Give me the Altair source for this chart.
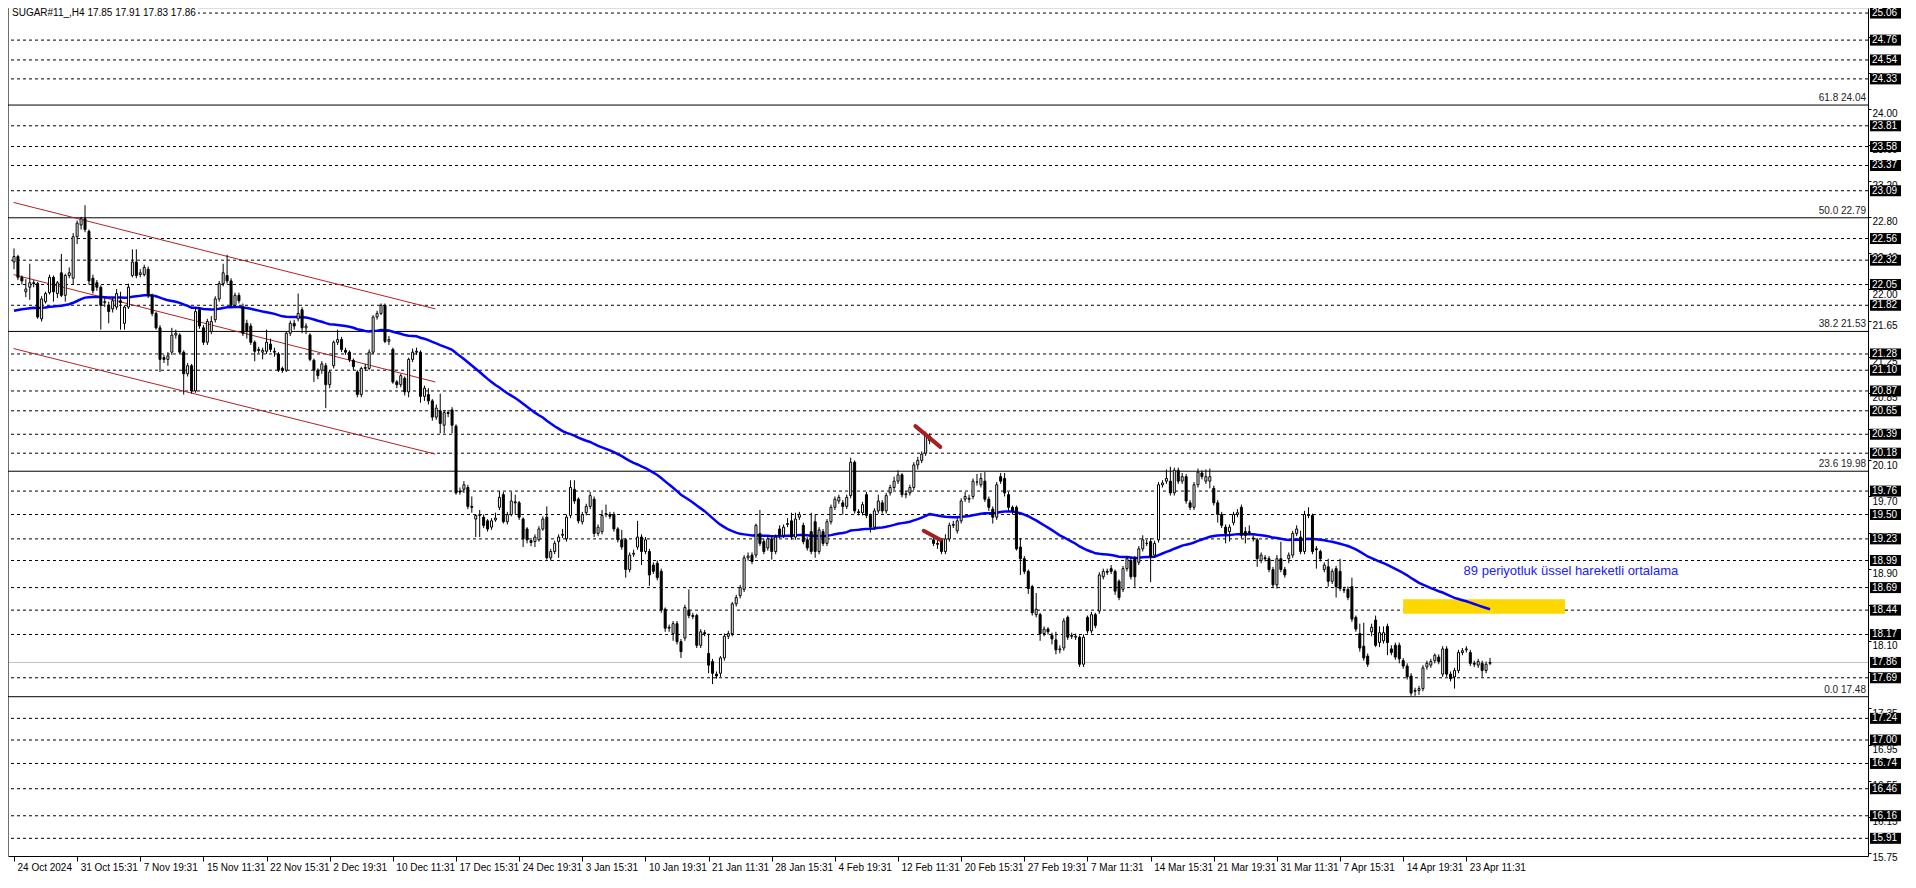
import json
import altair as alt
import pandas as pd

# ---------------- data ----------------
OPEN = [
    22.30, 22.36, 22.13, 21.97, 22.02, 22.07, 22.06, 21.67, 21.86, 21.96,
    22.13, 21.95, 22.18, 21.93, 22.15, 22.12, 22.58, 22.71, 22.78, 22.64,
    22.12, 22.07, 22.02, 21.85, 21.82, 21.78, 21.80, 21.87, 21.62, 21.80,
    22.15, 22.30, 22.16, 22.16, 22.22, 21.93, 21.73, 21.57, 21.24, 21.22,
    21.30, 21.49, 21.49, 21.30, 21.06, 21.15, 20.87, 21.77, 21.57, 21.41,
    21.53, 21.66, 21.89, 22.06, 22.15, 22.09, 21.82, 21.93, 21.80, 21.62,
    21.59, 21.41, 21.33, 21.30, 21.31, 21.39, 21.31, 21.28, 21.12, 21.10,
    21.51, 21.62, 21.67, 21.77, 21.57, 21.49, 21.21, 21.10, 21.10, 21.15,
    20.94, 21.15, 21.41, 21.44, 21.32, 21.30, 21.21, 21.08, 20.83, 21.12,
    21.12, 21.30, 21.69, 21.73, 21.82, 21.42, 21.33, 20.97, 20.94, 21.01,
    20.86, 21.22, 21.30, 21.30, 20.81, 20.83, 20.76, 20.58, 20.65, 20.49,
    20.63, 20.66, 20.48,
    19.76, 19.78, 19.80, 19.59, 19.45, 19.49, 19.47, 19.43, 19.36, 19.44,
    19.58, 19.72, 19.42, 19.50, 19.64, 19.63, 19.45, 19.34, 19.21, 19.20,
    19.22, 19.34, 19.47, 19.02, 19.09, 19.20, 19.27, 19.23, 19.49, 19.78,
    19.67, 19.42, 19.52, 19.59, 19.67, 19.29, 19.31, 19.50, 19.50, 19.50,
    19.34, 19.22, 19.22, 18.89, 19.06, 19.14, 19.25, 19.09, 19.09, 18.94,
    18.96, 18.87, 18.45, 18.25, 18.18, 18.29, 18.09, 18.13, 18.44, 18.38,
    18.38, 18.05, 18.19, 17.96, 17.87, 17.73, 17.74, 17.91, 18.15, 18.18,
    18.51, 18.60, 18.67, 19.02, 19.05, 19.05, 19.29, 19.20, 19.13, 19.23,
    19.09, 19.34, 19.27, 19.39, 19.43, 19.25, 19.47, 19.38, 19.22, 19.31,
    19.42, 19.09, 19.31, 19.18, 19.42, 19.58, 19.65, 19.63, 19.59, 19.71,
    20.08, 19.53, 19.52, 19.72, 19.49, 19.36, 19.54, 19.63, 19.54, 19.74,
    19.80, 19.87, 19.94, 19.72, 19.74, 19.80, 20.05, 20.10, 20.18, 20.37,
    19.22, 19.18, 19.22, 19.09, 19.23, 19.38, 19.32, 19.43, 19.67, 19.67,
    19.70, 19.86, 19.83, 19.87, 19.67, 19.56, 19.47, 19.92, 19.90, 19.72,
    19.58, 19.58, 19.14, 19.01, 18.87, 18.70, 18.39, 18.39, 18.18, 18.23,
    18.16, 18.11, 18.00, 18.02, 18.36, 18.16, 18.14, 18.14, 17.84, 18.36,
    18.21, 18.39, 18.43, 18.81, 18.87, 18.90, 18.87, 18.76, 18.67, 18.90,
    18.99, 19.01, 18.97, 19.12, 19.18, 19.20, 19.05, 19.22, 19.83, 19.87,
    19.87, 19.74, 19.99, 19.87, 19.92, 19.63, 19.58, 19.83, 19.96, 19.87,
    19.87, 19.79, 19.63, 19.50, 19.36, 19.31, 19.41, 19.50, 19.58, 19.31,
    19.31, 19.24, 19.22, 18.99, 19.02, 19.01, 18.89, 18.72, 19.01, 18.89,
    19.01, 19.05, 19.29, 19.25, 19.09, 19.50, 19.49, 19.12, 19.09, 18.89,
    18.92, 18.76, 18.90, 18.87, 18.67, 18.67, 18.70, 18.36, 18.18, 18.04,
    17.93, 18.20, 18.33, 18.08, 18.10, 18.26, 18.01, 18.05, 18.05, 17.88,
    17.82, 17.71, 17.54, 17.55, 17.57, 17.81, 17.83, 17.88, 17.92, 17.73,
    18.01, 17.73, 17.70, 17.77, 17.97, 18.00, 17.97, 17.85, 17.83, 17.85,
    17.77, 17.85,
]
HIGH = [
    22.45, 22.38, 22.15, 22.11, 22.28, 22.10, 22.08, 21.92, 21.97, 22.16,
    22.15, 22.09, 22.39, 22.17, 22.24, 22.62, 22.76, 22.80, 22.93, 22.66,
    22.16, 22.10, 22.04, 21.90, 21.86, 21.90, 22.00, 21.97, 21.82, 22.06,
    22.44, 22.44, 22.22, 22.27, 22.25, 21.95, 21.75, 21.60, 21.27, 21.30,
    21.57, 21.55, 21.51, 21.32, 21.18, 21.17, 21.78, 21.80, 21.60, 21.67,
    21.70, 21.92, 22.09, 22.28, 22.38, 22.12, 21.96, 21.96, 21.84, 21.66,
    21.62, 21.43, 21.36, 21.35, 21.55, 21.45, 21.35, 21.30, 21.14, 21.53,
    21.65, 21.66, 21.95, 21.80, 21.62, 21.51, 21.23, 21.12, 21.20, 21.18,
    21.10, 21.43, 21.55, 21.47, 21.35, 21.32, 21.23, 21.10, 21.14, 21.17,
    21.33, 21.71, 21.76, 21.84, 21.84, 21.48, 21.35, 20.99, 21.06, 21.03,
    21.24, 21.34, 21.35, 21.32, 20.93, 20.90, 20.78, 20.72, 20.84, 20.66,
    20.66, 20.69, 20.50,
    19.80, 19.87, 19.83, 19.70, 19.50, 19.55, 19.50, 19.45, 19.46, 19.52,
    19.76, 19.75, 19.53, 19.75, 19.72, 19.65, 19.47, 19.36, 19.24, 19.28,
    19.37, 19.48, 19.59, 19.12, 19.21, 19.28, 19.34, 19.50, 19.88, 19.88,
    19.69, 19.53, 19.62, 19.75, 19.70, 19.39, 19.55, 19.61, 19.53, 19.53,
    19.36, 19.33, 19.24, 19.08, 19.11, 19.43, 19.28, 19.25, 19.12, 18.97,
    18.99, 18.90, 18.47, 18.28, 18.32, 18.32, 18.12, 18.50, 18.67, 18.41,
    18.40, 18.23, 18.22, 18.18, 17.90, 17.76, 17.93, 18.18, 18.21, 18.53,
    18.61, 18.72, 19.05, 19.08, 19.08, 19.40, 19.55, 19.23, 19.26, 19.26,
    19.28, 19.38, 19.39, 19.46, 19.52, 19.52, 19.53, 19.41, 19.25, 19.52,
    19.50, 19.36, 19.34, 19.45, 19.61, 19.70, 19.72, 19.66, 19.72, 20.13,
    20.10, 19.56, 19.64, 19.75, 19.51, 19.57, 19.72, 19.66, 19.74, 19.83,
    19.92, 19.99, 19.96, 19.76, 19.83, 20.08, 20.14, 20.20, 20.42, 20.40,
    19.25, 19.22, 19.24, 19.28, 19.41, 19.43, 19.46, 19.68, 19.75, 19.72,
    19.90, 19.95, 19.96, 19.97, 19.70, 19.59, 19.86, 19.96, 19.96, 19.75,
    19.60, 19.60, 19.24, 19.04, 18.89, 18.72, 18.63, 18.41, 18.26, 18.25,
    18.19, 18.20, 18.05, 18.35, 18.38, 18.19, 18.18, 18.16, 18.17, 18.38,
    18.42, 18.41, 18.86, 18.90, 18.90, 18.94, 18.89, 18.78, 18.93, 19.04,
    19.02, 19.04, 19.15, 19.27, 19.22, 19.24, 19.21, 19.86, 19.88, 20.00,
    20.03, 20.02, 20.02, 19.96, 19.95, 19.66, 19.86, 20.01, 19.99, 20.00,
    20.01, 19.82, 19.66, 19.53, 19.39, 19.39, 19.53, 19.56, 19.61, 19.36,
    19.38, 19.27, 19.24, 19.08, 19.05, 19.04, 18.92, 19.05, 19.20, 18.92,
    19.08, 19.32, 19.38, 19.32, 19.54, 19.58, 19.51, 19.15, 19.11, 18.97,
    19.01, 18.90, 18.93, 19.01, 18.70, 18.70, 18.80, 18.38, 18.29, 18.30,
    17.96, 18.29, 18.38, 18.26, 18.26, 18.29, 18.05, 18.08, 18.08, 17.91,
    17.85, 17.74, 17.58, 17.60, 17.83, 17.88, 17.90, 17.96, 17.95, 18.04,
    18.04, 17.76, 17.80, 18.00, 18.02, 18.04, 18.00, 17.88, 17.90, 17.88,
    17.87, 17.91,
]
LOW = [
    22.22, 22.10, 22.05, 21.91, 21.88, 22.02, 21.67, 21.64, 21.84, 21.94,
    21.86, 21.90, 21.91, 21.86, 22.12, 22.05, 22.50, 22.66, 22.63, 22.05,
    21.95, 21.98, 21.55, 21.80, 21.62, 21.74, 21.77, 21.55, 21.55, 21.78,
    22.13, 22.12, 22.13, 22.14, 21.90, 21.70, 21.55, 21.08, 21.18, 21.15,
    21.27, 21.45, 21.28, 20.83, 21.03, 20.84, 20.85, 21.56, 21.38, 21.38,
    21.50, 21.63, 21.86, 22.03, 22.06, 21.80, 21.79, 21.84, 21.48, 21.45,
    21.38, 21.20, 21.29, 21.22, 21.28, 21.30, 21.25, 21.08, 21.07, 21.08,
    21.48, 21.55, 21.64, 21.51, 21.50, 21.20, 20.97, 21.00, 21.06, 20.68,
    20.90, 21.12, 21.38, 21.30, 21.27, 21.19, 21.10, 20.80, 20.80, 21.09,
    21.10, 21.28, 21.66, 21.71, 21.40, 21.38, 20.95, 20.90, 20.91, 20.82,
    20.80, 21.19, 21.27, 20.74, 20.76, 20.72, 20.54, 20.55, 20.40, 20.40,
    20.58, 20.40, 19.72,
    19.72, 19.74, 19.56, 19.52, 19.25, 19.25, 19.35, 19.31, 19.33, 19.42,
    19.55, 19.40, 19.39, 19.48, 19.50, 19.44, 19.14, 19.18, 19.15, 19.14,
    19.20, 19.32, 19.00, 18.99, 19.06, 19.02, 19.24, 19.20, 19.46, 19.62,
    19.40, 19.39, 19.49, 19.56, 19.25, 19.26, 19.28, 19.47, 19.45, 19.31,
    19.19, 19.11, 18.80, 18.86, 19.03, 19.11, 18.94, 19.06, 18.71, 18.84,
    18.77, 18.41, 18.20, 18.20, 18.10, 18.06, 17.91, 18.10, 18.35, 18.34,
    18.02, 18.02, 18.15, 17.74, 17.62, 17.68, 17.70, 17.88, 18.12, 18.15,
    18.48, 18.57, 18.64, 18.99, 18.95, 19.02, 19.15, 19.06, 19.10, 19.00,
    19.06, 19.24, 19.24, 19.36, 19.22, 19.22, 19.44, 19.17, 19.10, 19.06,
    19.02, 19.06, 19.15, 19.15, 19.39, 19.55, 19.62, 19.50, 19.56, 19.68,
    19.51, 19.49, 19.49, 19.46, 19.30, 19.33, 19.51, 19.51, 19.51, 19.71,
    19.77, 19.84, 19.69, 19.68, 19.71, 19.77, 20.00, 20.07, 20.15, 20.28,
    19.15, 19.12, 19.06, 19.06, 19.20, 19.35, 19.29, 19.40, 19.64, 19.63,
    19.67, 19.82, 19.80, 19.64, 19.54, 19.40, 19.44, 19.84, 19.70, 19.54,
    19.50, 19.10, 18.83, 18.84, 18.62, 18.38, 18.36, 18.10, 18.15, 18.17,
    18.06, 17.95, 17.96, 17.99, 18.11, 18.12, 18.11, 17.81, 17.81, 18.18,
    18.18, 18.24, 18.40, 18.78, 18.83, 18.84, 18.61, 18.55, 18.64, 18.87,
    18.78, 18.70, 18.94, 19.09, 19.15, 18.75, 19.02, 19.19, 19.80, 19.84,
    19.71, 19.71, 19.84, 19.84, 19.62, 19.55, 19.55, 19.80, 19.89, 19.84,
    19.79, 19.60, 19.41, 19.35, 19.18, 19.20, 19.38, 19.47, 19.24, 19.18,
    19.27, 19.20, 18.92, 18.96, 18.98, 18.86, 18.69, 18.68, 18.86, 18.80,
    18.96, 19.02, 19.26, 19.06, 19.06, 19.46, 19.06, 18.90, 18.98, 18.86,
    18.70, 18.73, 18.58, 18.65, 18.63, 18.55, 18.31, 18.20, 17.98, 17.88,
    17.81, 18.15, 18.03, 18.03, 18.07, 17.94, 17.94, 17.89, 17.85, 17.79,
    17.67, 17.49, 17.49, 17.50, 17.54, 17.78, 17.80, 17.85, 17.84, 17.70,
    17.70, 17.65, 17.57, 17.74, 17.94, 17.97, 17.82, 17.81, 17.80, 17.70,
    17.74, 17.83,
]
CLOSE = [
    22.36, 22.13, 22.09, 22.00, 22.07, 22.06, 21.69, 21.89, 21.95, 22.13,
    21.97, 22.07, 21.93, 22.15, 22.18, 22.58, 22.73, 22.78, 22.66, 22.09,
    21.98, 22.02, 21.82, 21.86, 21.75, 21.87, 21.95, 21.85, 21.80, 22.02,
    22.30, 22.15, 22.18, 22.24, 21.93, 21.73, 21.57, 21.22, 21.22, 21.26,
    21.49, 21.51, 21.30, 21.06, 21.15, 20.87, 21.75, 21.59, 21.41, 21.64,
    21.64, 21.89, 22.06, 22.18, 22.09, 21.82, 21.93, 21.87, 21.51, 21.53,
    21.41, 21.31, 21.32, 21.32, 21.41, 21.33, 21.30, 21.10, 21.10, 21.51,
    21.62, 21.59, 21.73, 21.57, 21.59, 21.22, 21.10, 21.04, 21.17, 20.94,
    21.08, 21.41, 21.44, 21.33, 21.30, 21.22, 21.14, 20.83, 21.12, 21.13,
    21.30, 21.69, 21.73, 21.82, 21.42, 21.44, 20.97, 20.94, 21.04, 20.86,
    21.22, 21.30, 21.31, 20.81, 20.90, 20.76, 20.58, 20.68, 20.51, 20.63,
    20.62, 20.49, 19.74,
    19.75, 19.83, 19.59, 19.58, 19.49, 19.50, 19.38, 19.34, 19.43, 19.46,
    19.69, 19.42, 19.50, 19.65, 19.63, 19.47, 19.23, 19.22, 19.19, 19.25,
    19.34, 19.45, 19.02, 19.09, 19.18, 19.25, 19.28, 19.47, 19.80, 19.65,
    19.43, 19.50, 19.59, 19.71, 19.29, 19.36, 19.49, 19.51, 19.48, 19.34,
    19.22, 19.14, 18.89, 19.05, 19.07, 19.25, 19.09, 19.22, 18.83, 18.87,
    18.80, 18.44, 18.24, 18.24, 18.29, 18.09, 17.98, 18.47, 18.38, 18.37,
    18.05, 18.20, 18.18, 17.83, 17.74, 17.71, 17.91, 18.15, 18.18, 18.51,
    18.58, 18.69, 19.02, 19.04, 18.98, 19.38, 19.18, 19.09, 19.23, 19.09,
    19.25, 19.27, 19.36, 19.40, 19.25, 19.45, 19.50, 19.20, 19.13, 19.09,
    19.09, 19.33, 19.18, 19.42, 19.58, 19.67, 19.69, 19.59, 19.69, 20.08,
    19.54, 19.52, 19.61, 19.49, 19.36, 19.54, 19.65, 19.54, 19.71, 19.80,
    19.87, 19.94, 19.72, 19.73, 19.80, 20.05, 20.10, 20.17, 20.37, 20.32,
    19.18, 19.17, 19.09, 19.23, 19.38, 19.39, 19.43, 19.65, 19.70, 19.68,
    19.87, 19.86, 19.90, 19.67, 19.58, 19.47, 19.83, 19.87, 19.74, 19.58,
    19.54, 19.12, 19.01, 18.87, 18.68, 18.41, 18.45, 18.18, 18.23, 18.20,
    18.12, 18.00, 18.01, 18.32, 18.14, 18.15, 18.15, 17.84, 18.14, 18.21,
    18.39, 18.27, 18.83, 18.87, 18.86, 18.87, 18.65, 18.58, 18.90, 19.01,
    18.81, 18.81, 19.12, 19.22, 19.18, 19.03, 19.18, 19.83, 19.85, 19.90,
    19.74, 19.99, 19.87, 19.92, 19.65, 19.58, 19.83, 19.97, 19.92, 19.92,
    19.92, 19.63, 19.50, 19.38, 19.29, 19.36, 19.50, 19.52, 19.27, 19.27,
    19.30, 19.23, 19.01, 19.05, 19.01, 18.89, 18.72, 19.01, 18.89, 18.83,
    19.05, 19.29, 19.34, 19.09, 19.50, 19.49, 19.09, 19.11, 19.01, 18.94,
    18.76, 18.87, 18.70, 18.68, 18.66, 18.58, 18.34, 18.23, 18.02, 17.91,
    17.84, 18.25, 18.05, 18.19, 18.19, 18.08, 17.97, 17.92, 17.90, 17.82,
    17.70, 17.52, 17.55, 17.57, 17.80, 17.85, 17.87, 17.94, 17.87, 18.01,
    17.73, 17.68, 17.77, 17.97, 17.99, 18.01, 17.85, 17.84, 17.87, 17.77,
    17.84, 17.86,
]

EMA_PERIOD = 89
EMA_START = 21.76          # value of the average at the first visible bar

DASHED_LEVELS = [25.06, 24.76, 24.54, 24.33, 23.81, 23.58, 23.37, 23.09, 22.56,
                 22.32, 22.05, 21.82, 21.28, 21.10, 20.87, 20.65, 20.39, 20.18,
                 19.76, 19.50, 19.23, 18.99, 18.69, 18.44, 18.17, 17.69, 17.24,
                 17.00, 16.74, 16.46, 16.16, 15.91]
FIB_LEVELS = [24.04, 22.79, 21.53, 19.98, 17.48]
FIB_TEXT = ["61.8 24.04", "50.0 22.79", "38.2 21.53", "23.6 19.98", "0.0 17.48"]
BID = 17.86

Y_TICKS = [24.80, 24.40, 24.00, 23.60, 23.20, 22.80, 22.40, 22.00, 21.65, 21.25,
           20.85, 20.45, 20.10, 19.70, 19.30, 18.90, 18.50, 18.10, 17.75, 17.35,
           16.95, 16.55, 16.15, 15.75]
X_LABELS = ["24 Oct 2024", "31 Oct 15:31", "7 Nov 19:31", "15 Nov 11:31",
            "22 Nov 15:31", "2 Dec 19:31", "10 Dec 11:31", "17 Dec 15:31",
            "24 Dec 19:31", "3 Jan 15:31", "10 Jan 19:31", "21 Jan 11:31",
            "28 Jan 15:31", "4 Feb 19:31", "12 Feb 11:31", "20 Feb 15:31",
            "27 Feb 19:31", "7 Mar 11:31", "14 Mar 15:31", "21 Mar 19:31",
            "31 Mar 11:31", "7 Apr 15:31", "14 Apr 19:31", "23 Apr 11:31"]
BARS_PER_LABEL = 16

CH_X0 = [-0.1, -0.1, -0.1]
CH_X1 = [106.75, 106.75, 106.75]
CH_Y0 = [22.96, 22.16, 21.34]
CH_Y1 = [21.78, 20.97, 20.17]

ZONE_X = [352.0, 393.0]
ZONE_Y = [18.40, 18.56]

ARROW_X0 = [228.4, 230.5]
ARROW_Y0 = [20.48, 19.32]
ARROW_X1 = [234.7, 234.7]
ARROW_Y1 = [20.25, 19.22]

NOTE_TEXT = "89 periyotluk üssel hareketli ortalama"
NOTE_X = 367.3
NOTE_Y = 18.87
HEADER = "SUGAR#11_,H4  17.85 17.91 17.83 17.86"

# ---------------- build ----------------
W, H = 1860, 848
FONT = "Liberation Sans"
XDOM = [-0.25, 468.5]
YDOM = [15.714, 25.116]

n = min(len(OPEN), len(HIGH), len(LOW), len(CLOSE))
candles = pd.DataFrame({"i": list(range(n)), "o": OPEN[:n], "h": HIGH[:n],
                        "l": LOW[:n], "c": CLOSE[:n]})

alpha = 2.0 / (EMA_PERIOD + 1)
ema = []
prev = EMA_START
for k, c in enumerate(CLOSE[:n]):
    prev = EMA_START if k == 0 else prev + alpha * (c - prev)
    ema.append(prev)
ema_df = pd.DataFrame({"i": list(range(n)), "ema": ema})

xs = alt.Scale(domain=XDOM, nice=False, zero=False)
ys = alt.Scale(domain=YDOM, nice=False, zero=False)

x_axis = alt.Axis(values=[k * BARS_PER_LABEL for k in range(len(X_LABELS))],
                  labelExpr=f"{json.dumps(X_LABELS)}[round(datum.value / {BARS_PER_LABEL})]",
                  labelAlign="left", labelOffset=3, labelPadding=1, labelOverlap=False,
                  labelFlush=False, labelFont=FONT, labelFontSize=10, labelColor="black",
                  tickColor="black", tickSize=5, domainColor="black", grid=False, title=None)
y_axis = alt.Axis(orient="right", values=Y_TICKS, format=".2f", labelFont=FONT,
                  labelFontSize=10, labelColor="black", labelBaseline="top", labelPadding=1,
                  labelOverlap=False, labelFlush=False, tickColor="black", tickSize=3,
                  domainColor="black", grid=False, title=None)

X = lambda f: alt.X(f, type="quantitative", scale=xs, axis=x_axis)
Y = lambda f: alt.Y(f, type="quantitative", scale=ys, axis=y_axis)

dashed = alt.Chart(pd.DataFrame({"p": DASHED_LEVELS})).mark_rule(
    color="black", strokeWidth=1, strokeDash=[3, 3]).encode(y=Y("p"))
fib = alt.Chart(pd.DataFrame({"p": FIB_LEVELS, "t": FIB_TEXT}))
fib_lines = fib.mark_rule(color="black", strokeWidth=1).encode(y=Y("p"))
fib_text = fib.mark_text(align="right", baseline="bottom", dy=-2, font=FONT,
                         fontSize=10, color="#222222").encode(
    x=alt.value(W - 2), y=Y("p"), text="t:N")
bid_line = alt.Chart(pd.DataFrame({"p": [BID]})).mark_rule(
    color="#C0C0C0", strokeWidth=1).encode(y=Y("p"))

zone = alt.Chart(pd.DataFrame({"x0": [ZONE_X[0]], "x1": [ZONE_X[1]],
                               "y0": [ZONE_Y[0]], "y1": [ZONE_Y[1]]})).mark_rect(
    color="#FFD700").encode(x=X("x0"), x2="x1", y=Y("y0"), y2="y1")

channel = alt.Chart(pd.DataFrame({"x0": CH_X0, "x1": CH_X1, "y0": CH_Y0, "y1": CH_Y1})).mark_rule(
    color="#B22222", strokeWidth=1).encode(x=X("x0"), x2="x1", y=Y("y0"), y2="y1")

ma = alt.Chart(ema_df).mark_line(color="#0000FF", strokeWidth=2.5).encode(
    x=X("i"), y=Y("ema"))

wicks = alt.Chart(candles).mark_rule(color="black", strokeWidth=1).encode(
    x=X("i"), y=Y("l"), y2="h")
bodies = alt.Chart(candles).mark_bar(size=2, stroke="black", strokeWidth=1).encode(
    x=X("i"), y=Y("o"), y2="c",
    fill=alt.condition("datum.c >= datum.o", alt.value("white"), alt.value("black")))

arrows = alt.Chart(pd.DataFrame({"x0": ARROW_X0, "x1": ARROW_X1,
                                 "y0": ARROW_Y0, "y1": ARROW_Y1})).mark_rule(
    color="#A52020", strokeWidth=4, strokeCap="round").encode(
    x=X("x0"), x2="x1", y=Y("y0"), y2="y1")

note = alt.Chart(pd.DataFrame({"x": [NOTE_X], "y": [NOTE_Y], "t": [NOTE_TEXT]})).mark_text(
    align="left", baseline="middle", font=FONT, fontSize=13, color="#2020FF").encode(
    x=X("x"), y=Y("y"), text="t:N")

frame_left = alt.Chart(pd.DataFrame({"k": [0]})).mark_rule(color="black").encode(
    x=alt.value(0), y=alt.value(0), y2=alt.value(H))

header_bg = alt.Chart(pd.DataFrame({"k": [0]})).mark_rule(
    color="white", strokeWidth=10).encode(x=alt.value(1), x2=alt.value(190), y=alt.value(5))
header = alt.Chart(pd.DataFrame({"t": [HEADER]})).mark_text(
    align="left", baseline="top", font=FONT, fontSize=10, color="black").encode(
    x=alt.value(4), y=alt.value(0), text="t:N")

box_levels = DASHED_LEVELS + [BID]
boxes_df = pd.DataFrame({"p": box_levels, "lab": [f"{v:.2f}" for v in box_levels]})
boxes = alt.Chart(boxes_df).mark_rule(color="black", strokeWidth=11, strokeCap="butt").encode(
    x=alt.value(W + 2), x2=alt.value(W + 33), y=Y("p"))
box_text = alt.Chart(boxes_df).mark_text(
    align="left", baseline="middle", font=FONT, fontSize=10, color="white").encode(
    x=alt.value(W + 4), y=Y("p"), text="lab:N")

chart = alt.layer(
    dashed, fib_lines, bid_line, zone, channel, ma, wicks, bodies, arrows,
    fib_text, note, frame_left, header_bg, header, boxes, box_text
).properties(
    width=W, height=H,
    padding={"left": 0, "top": 0, "right": 40, "bottom": 18},
    autosize=alt.AutoSizeParams(type="none"),
).configure_view(stroke=None).configure(background="white")

chart.save("out.html", embed_options={"renderer": "svg", "actions": False})
